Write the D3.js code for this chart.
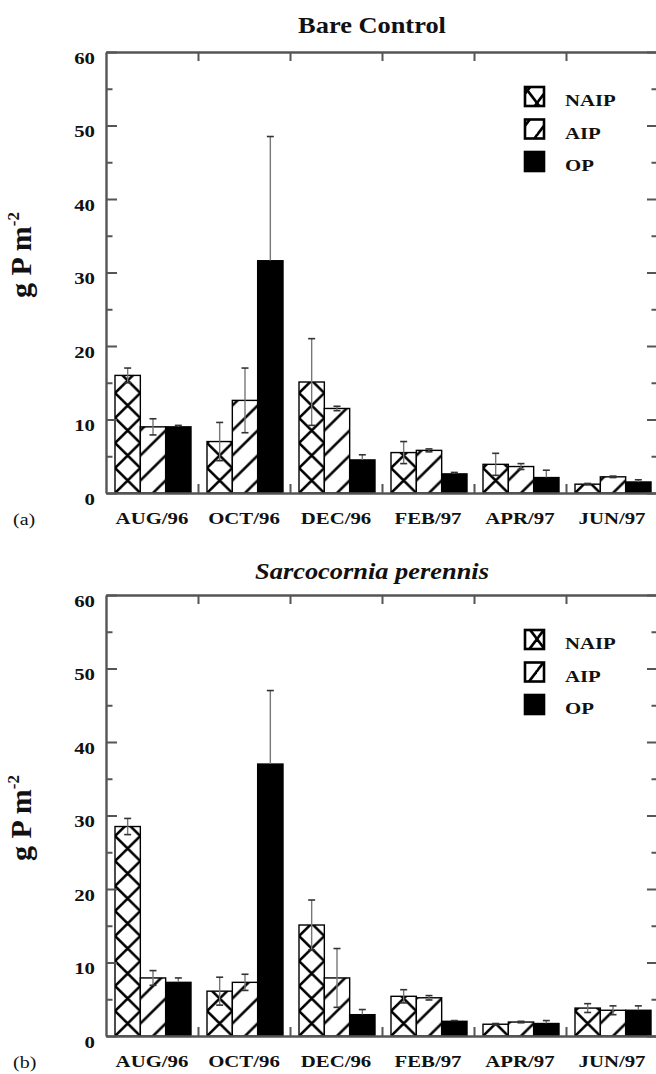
<!DOCTYPE html>
<meta charset="utf-8">
<title>g P m-2 by month</title>
<style>
body {
  margin: 0;
  background: #fff;
}
svg text {
  font-family: "Liberation Serif", "Times New Roman", serif;
  fill: #111;
}
.axis path, .axis line {
  stroke: #555;
}
</style>
<svg id="chart" width="656" height="1074"></svg>
<script src="https://cdn.jsdelivr.net/npm/d3@7"></script>
<script>
'use strict';

// data
const months = ["AUG/96", "OCT/96", "DEC/96", "FEB/97", "APR/97", "JUN/97"];
const series = ["NAIP", "AIP", "OP"];
const yTicks = [0, 10, 20, 30, 40, 50, 60];

const bareNAIP    = [16.0, 7.0, 15.1, 5.5, 3.9, 1.2];
const bareNAIPErr = [1.0, 2.6, 5.9, 1.5, 1.5, 0.1];
const bareAIP     = [9.0, 12.6, 11.5, 5.8, 3.6, 2.2];
const bareAIPErr  = [1.1, 4.4, 0.3, 0.2, 0.4, 0.1];
const bareOP      = [9.0, 31.6, 4.5, 2.6, 2.1, 1.5];
const bareOPErr   = [0.2, 16.9, 0.7, 0.2, 1.0, 0.3];

const sarcNAIP    = [28.5, 6.1, 15.1, 5.4, 1.6, 3.8];
const sarcNAIPErr = [1.1, 1.9, 3.4, 0.9, 0.1, 0.6];
const sarcAIP     = [7.9, 7.3, 7.9, 5.2, 1.9, 3.5];
const sarcAIPErr  = [1.0, 1.1, 4.0, 0.3, 0.1, 0.6];
const sarcOP      = [7.3, 37.0, 2.9, 2.0, 1.7, 3.5];
const sarcOPErr   = [0.6, 10.0, 0.7, 0.1, 0.4, 0.6];

const panels = [
  {id: "a", title: "Bare Control", italic: false, top: 52, bottom: 493, titleGap: 19, labelY: 255,
   values: [bareNAIP, bareAIP, bareOP], errors: [bareNAIPErr, bareAIPErr, bareOPErr]},
  {id: "b", title: "Sarcocornia perennis", italic: true, top: 595, bottom: 1036, titleGap: 16, labelY: 818,
   values: [sarcNAIP, sarcAIP, sarcOP], errors: [sarcNAIPErr, sarcAIPErr, sarcOPErr]}
];

const left = 106, right = 658, sx = 1.3;
const svg = d3.select("#chart");
const defs = svg.append("defs");

// hatch patterns, one per bar so the lines line up with each bar's edge
var makePattern = function(id, kind, x, y, w) {
  const p = defs.append("pattern")
      .attr("id", id)
      .attr("patternUnits", "userSpaceOnUse")
      .attr("x", x).attr("y", y)
      .attr("width", w).attr("height", 25);
  p.append("rect").attr("width", w).attr("height", 25).attr("fill", "#fff");
  const segs = kind === "NAIP"
    ? [[0, 0, w, 25], [0, 25, w, 0], [-2, 2, 2, -2], [w - 2, 27, w + 2, 23], [-2, 23, 2, 27], [w - 2, -2, w + 2, 2]]
    : [[0, 25, w, 0], [-2, 2, 2, -2], [w - 2, 27, w + 2, 23]];
  segs.forEach((s) => p.append("line")
      .attr("x1", s[0]).attr("y1", s[1]).attr("x2", s[2]).attr("y2", s[3])
      .attr("stroke", "#000").attr("stroke-width", 2.6));
};

var stretchText = function(sel, tx, ty) {
  sel.attr("x", null).attr("y", null).attr("dy", null)
     .attr("transform", `translate(${tx},${ty}) scale(${sx},1)`);
};

panels.forEach(function(pan) {
  const g = svg.append("g");
  const y = d3.scaleLinear().domain([0, 60]).range([pan.bottom, pan.top]);
  const x0 = d3.scaleBand().domain(months).range([left, right]);
  const x1 = d3.scaleBand().domain(series).range([9, x0.bandwidth() - 7]);
  const bound = d3.scaleLinear().domain([0, 6]).range([left, right]);

  const bars = [];
  months.forEach((m, i) => series.forEach((s, j) => bars.push({
    m: m, s: s, v: pan.values[j][i], e: pan.errors[j][i],
    x: x0(m) + x1(s), id: `p-${pan.id}-${i}-${j}`
  })));

  bars.filter((d) => d.s !== "OP").forEach((d) =>
    makePattern(d.id, d.s, d.x, d.s === "NAIP" ? pan.bottom : pan.bottom - 12.5, x1.bandwidth()));

  g.selectAll(".bar")
    .data(bars)
    .enter().append("rect")
      .attr("class", "bar")
      .attr("x", (d) => d.x)
      .attr("y", (d) => y(d.v))
      .attr("width", x1.bandwidth())
      .attr("height", (d) => y(0) - y(d.v))
      .attr("fill", (d) => d.s === "OP" ? "#000" : `url(#${d.id})`)
      .attr("stroke", "#000")
      .attr("stroke-width", 1.4);

  // error bars, mean +/- value (lower half is lost inside the black OP bars)
  const eb = g.selectAll(".err")
    .data(bars)
    .enter().append("g")
      .attr("class", "err")
      .attr("transform", (d) => `translate(${d.x + x1.bandwidth() / 2},0)`);
  eb.append("line")
      .attr("y1", (d) => y(d.v)).attr("y2", (d) => y(d.v + d.e))
      .attr("stroke", "#777").attr("stroke-width", 1.4);
  eb.append("line")
      .attr("y1", (d) => y(d.v - d.e)).attr("y2", (d) => y(d.v))
      .attr("stroke", (d) => d.s === "OP" ? "#000" : "#777").attr("stroke-width", 1.4);
  eb.selectAll(".cap")
    .data((d) => [{v: d.v - d.e, c: d.s === "OP" ? "#000" : "#333"}, {v: d.v + d.e, c: "#333"}])
    .enter().append("line")
      .attr("x1", -3.5).attr("x2", 3.5)
      .attr("y1", (c) => y(c.v)).attr("y2", (c) => y(c.v))
      .attr("stroke", (c) => c.c).attr("stroke-width", 1.6);

  // axes
  const yAxis = g.append("g").attr("class", "axis")
      .attr("transform", `translate(${left},0)`)
      .call(d3.axisLeft(y).tickValues(yTicks).tickSize(-11).tickSizeOuter(0).tickPadding(11));
  yAxis.selectAll("text")
      .style("font-size", "16px").style("font-weight", "bold")
      .call(stretchText, -11, 11);
  g.append("g").attr("class", "axis")
      .attr("transform", `translate(${left},0)`)
      .call(d3.axisLeft(y).tickValues([5, 15, 25, 35, 45, 55]).tickSize(-6.5).tickFormat(""))
      .select(".domain").remove();
  g.append("g").attr("class", "axis")
      .attr("transform", `translate(${right},0)`)
      .call(d3.axisRight(y).tickValues(yTicks).tickSize(-11).tickSizeOuter(0).tickFormat(""));
  g.append("g").attr("class", "axis")
      .attr("transform", `translate(${right},0)`)
      .call(d3.axisRight(y).tickValues([5, 15, 25, 35, 45, 55]).tickSize(-6.5).tickFormat(""))
      .select(".domain").remove();
  g.append("g").attr("class", "axis")
      .attr("transform", `translate(0,${pan.top})`)
      .call(d3.axisTop(bound).tickValues([1, 2, 3, 4, 5]).tickSize(-9).tickSizeOuter(0).tickFormat(""));
  g.append("g").attr("class", "axis")
      .attr("transform", `translate(0,${pan.bottom})`)
      .call(d3.axisBottom(bound).tickValues([1, 2, 3, 4, 5]).tickSize(-9).tickSizeOuter(0).tickFormat(""));
  const mAxis = g.append("g")
      .attr("transform", `translate(0,${pan.bottom})`)
      .call(d3.axisBottom(x0).tickSize(0));
  mAxis.select(".domain").remove();
  mAxis.selectAll("text")
      .style("font-size", "16px").style("font-weight", "bold")
      .call(stretchText, 0, 31);
  g.selectAll(".axis path").attr("stroke-width", 2.4);
  g.selectAll(".axis line").attr("stroke-width", 2);

  // title
  g.append("text")
      .attr("transform", `translate(372,${pan.top - pan.titleGap}) scale(1.1,1)`)
      .attr("text-anchor", "middle")
      .style("font-size", "24px").style("font-weight", "bold")
      .style("font-style", pan.italic ? "italic" : "normal")
      .text(pan.title);

  // y label
  const yl = g.append("text")
      .attr("transform", `translate(31,${pan.labelY}) rotate(-90)`)
      .attr("text-anchor", "middle")
      .style("font-size", "30px").style("font-weight", "bold");
  yl.append("tspan").text("g P m");
  yl.append("tspan").attr("dy", -12).style("font-size", "17px").text("-2");

  // panel tag
  g.append("text")
      .attr("transform", `translate(13,${pan.bottom + 32}) scale(1.25,1)`)
      .style("font-size", "16px")
      .text(`(${pan.id})`);

  // legend
  const leg = g.selectAll(".leg")
    .data(series)
    .enter().append("g")
      .attr("class", "leg")
      .attr("transform", (d, k) => `translate(525,${pan.top + 35 + k * 32.5})`);
  series.slice(0, 2).forEach((s, k) =>
    makePattern(`leg-${pan.id}-${s}`, s, 525, pan.top + 35 + k * 32.5 + (s === "NAIP" ? 4 : -4), 19));
  leg.append("rect")
      .attr("width", 19).attr("height", 19)
      .attr("fill", (d) => d === "OP" ? "#000" : `url(#leg-${pan.id}-${d})`)
      .attr("stroke", "#000").attr("stroke-width", 2.6);
  leg.append("text")
      .style("font-size", "16px").style("font-weight", "bold")
      .attr("transform", `translate(40,19) scale(${sx},1)`)
      .text((d) => d);
});
</script>
